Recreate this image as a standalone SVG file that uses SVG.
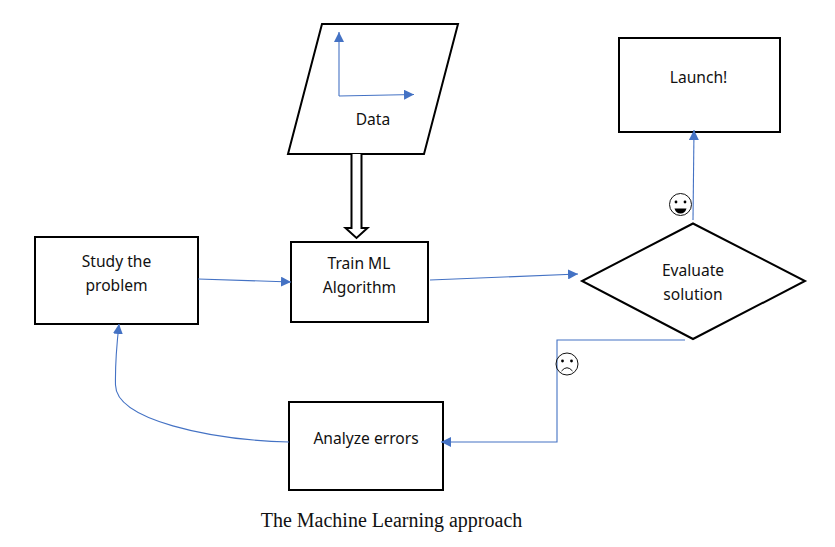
<svg xmlns="http://www.w3.org/2000/svg" width="835" height="547" viewBox="0 0 835 547">
<style>
.n{fill:#fff;stroke:#000;stroke-width:2}
.t{font-family:"Noto Sans","Open Sans",sans-serif;font-size:15.600px;fill:#111;text-anchor:middle}
.c{fill:none;stroke:#4472c4;stroke-width:1.1}
.e{fill:none;stroke:#111;stroke-width:1}
</style>
<defs>
<marker id="a" markerUnits="userSpaceOnUse" markerWidth="11" markerHeight="10" refX="10" refY="5" orient="auto"><path d="M0 0L10 5L0 10Z" fill="#4472c4"/></marker>
</defs>
<rect width="835" height="547" fill="#fff"/>
<g id="data"><path class="n" d="M322 24H458L424 154H288Z"/><text class="t" x="373" y="125">Data</text></g>
<g id="launch"><rect class="n" x="619" y="38" width="161" height="94"/><text class="t" x="698.500" y="83">Launch!</text></g>
<g id="study"><rect class="n" x="35" y="237" width="163" height="87"/><text class="t" x="116.500" y="267">Study the</text><text class="t" x="116.500" y="291">problem</text></g>
<g id="train"><rect class="n" x="291" y="242" width="137" height="80"/><text class="t" x="359" y="269">Train ML</text><text class="t" x="359.500" y="293">Algorithm</text></g>
<g id="evaluate"><path class="n" d="M693 223.500L805 281L693 339L582 281Z"/><text class="t" x="693" y="276">Evaluate</text><text class="t" x="693" y="300">solution</text></g>
<g id="analyze"><rect class="n" x="289" y="402" width="154" height="88"/><text class="t" x="366" y="444">Analyze errors</text></g>
<g id="connectors">
<path class="c" d="M339 96V32" marker-end="url(#a)"/>
<path class="c" d="M339 96L414 94.500" marker-end="url(#a)"/>
<path d="M351.500 154V228H345.500L356.500 238L367.500 228H361.500V154" fill="#fff" stroke="#000" stroke-width="2"/>
<path class="c" d="M198 279L291 282" marker-end="url(#a)"/>
<path class="c" d="M430 280L578 274" marker-end="url(#a)"/>
<path class="c" d="M693 220L694 130" marker-end="url(#a)"/>
<path class="c" d="M685 340H557V442H441" marker-end="url(#a)"/>
<path class="c" d="M289 442C210 440 116 420 115.500 385Q115 360 119 324" marker-end="url(#a)"/>
</g>
<g id="smile"><circle class="e" cx="680.500" cy="204.500" r="11"/><circle cx="676" cy="202" r="1.400"/><circle cx="685" cy="202" r="1.400"/><path d="M674.500 208.500H686.500Q685 213.500 680.500 213.500T674.500 208.500Z"/></g>
<g id="frown"><circle class="e" cx="567" cy="364" r="11"/><circle cx="562.500" cy="361" r="1.400"/><circle cx="571.500" cy="361" r="1.400"/><path class="e" d="M561.500 371Q567 364.500 572.500 371"/></g>
<text x="391.500" y="527" font-family="Liberation Serif,serif" font-size="20px" fill="#111" text-anchor="middle">The Machine Learning approach</text>
</svg>
